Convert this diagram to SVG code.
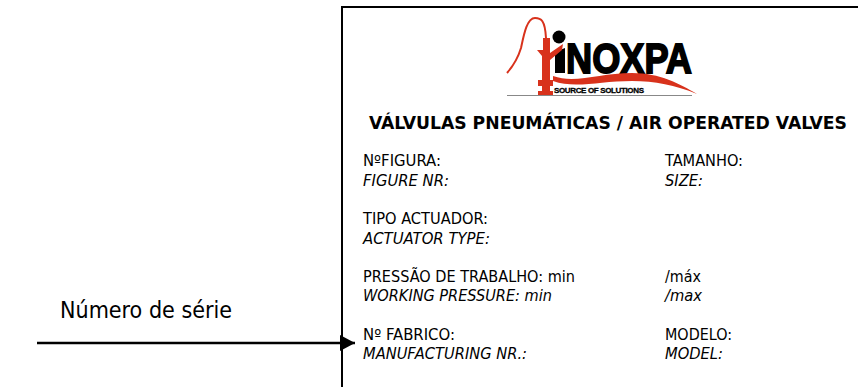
<svg xmlns="http://www.w3.org/2000/svg" width="858" height="387" viewBox="0 0 858 387">
<style>
text{font-family:"DejaVu Sans Condensed","DejaVu Sans","Liberation Sans",sans-serif;fill:#000}
.t{font-size:15.500px}
.i{font-size:15.500px;font-style:italic}
.r{fill:#d8321c}
.rs{fill:none;stroke:#d8321c;stroke-width:2}
</style>
<defs><marker id="a" markerUnits="userSpaceOnUse" markerWidth="16" markerHeight="16" refX="15" refY="8" orient="auto"><path d="M0 0L15 8L0 16Z" fill="#000"/></marker></defs>
<rect width="858" height="387" fill="#fff"/>
<g id="frame"><path d="M342 387V7H858" fill="none" stroke="#000" stroke-width="2"/></g>
<g id="logo">
<path d="M555 52L565 48V73H555Z" fill="#000"/>
<circle cx="559" cy="37" r="6.500" fill="#000"/>
<text x="566" y="73" textLength="126" lengthAdjust="spacingAndGlyphs" stroke="#000" stroke-width="1.800" style="font-family:'Liberation Sans',sans-serif;font-size:43px;font-weight:700">NOXPA</text>
<path class="rs" d="M507 73C514 65 518 58 521 48C524 34 527 18 535 18C541 18 545 20 546 38"/>
<path class="r" d="M543 38h7v15l13-9l-1 6l-12 10v20h3v6h-3v5h3v4h-15v-4h4v-5h-4v-6h4v-24l-5-6h6z"/>
<path class="r" d="M553 76C575 84 600 73 632 73C660 73 680 84 697 94C675 85 655 81 632 81C600 81 575 89 553 81Z"/>
<text x="554" y="93" textLength="90" stroke="#000" stroke-width=".3" style="font-family:'Liberation Sans',sans-serif;font-size:8px;font-weight:700">SOURCE OF SOLUTIONS</text>
<path d="M507 95.500H692" stroke="#888" stroke-width="1"/>
</g>
<g id="form">
<text x="369" y="129" textLength="478" lengthAdjust="spacingAndGlyphs" style="font-size:17px;font-weight:700">VÁLVULAS PNEUMÁTICAS / AIR OPERATED VALVES</text>
<text class="t" x="363" y="166" textLength="78" lengthAdjust="spacingAndGlyphs">NºFIGURA:</text><text class="i" x="363" y="186" textLength="86" lengthAdjust="spacingAndGlyphs">FIGURE NR:</text>
<text class="t" x="665" y="166" textLength="78" lengthAdjust="spacingAndGlyphs">TAMANHO:</text><text class="i" x="665" y="186" textLength="38" lengthAdjust="spacingAndGlyphs">SIZE:</text>
<text class="t" x="363" y="224" textLength="125" lengthAdjust="spacingAndGlyphs">TIPO ACTUADOR:</text><text class="i" x="363" y="244" textLength="127" lengthAdjust="spacingAndGlyphs">ACTUATOR TYPE:</text>
<text class="t" x="363" y="282" textLength="212" lengthAdjust="spacingAndGlyphs">PRESSÃO DE TRABALHO: min</text><text class="i" x="363" y="301" textLength="189" lengthAdjust="spacingAndGlyphs">WORKING PRESSURE: min</text>
<text class="t" x="665" y="282" textLength="36" lengthAdjust="spacingAndGlyphs">/máx</text><text class="i" x="665" y="301" textLength="37" lengthAdjust="spacingAndGlyphs">/max</text>
<text class="t" x="363" y="340" textLength="92" lengthAdjust="spacingAndGlyphs">Nº FABRICO:</text><text class="i" x="363" y="359" textLength="164" lengthAdjust="spacingAndGlyphs">MANUFACTURING NR.:</text>
<text class="t" x="665" y="340" textLength="67" lengthAdjust="spacingAndGlyphs">MODELO:</text><text class="i" x="665" y="359" textLength="58" lengthAdjust="spacingAndGlyphs">MODEL:</text>
</g>
<g id="label"><text x="60" y="318" textLength="172" lengthAdjust="spacingAndGlyphs" style="font-size:23px">Número de série</text></g>
<g id="connectors"><path d="M37 343H355" stroke="#000" stroke-width="2.500" fill="none" marker-end="url(#a)"/></g>
</svg>
